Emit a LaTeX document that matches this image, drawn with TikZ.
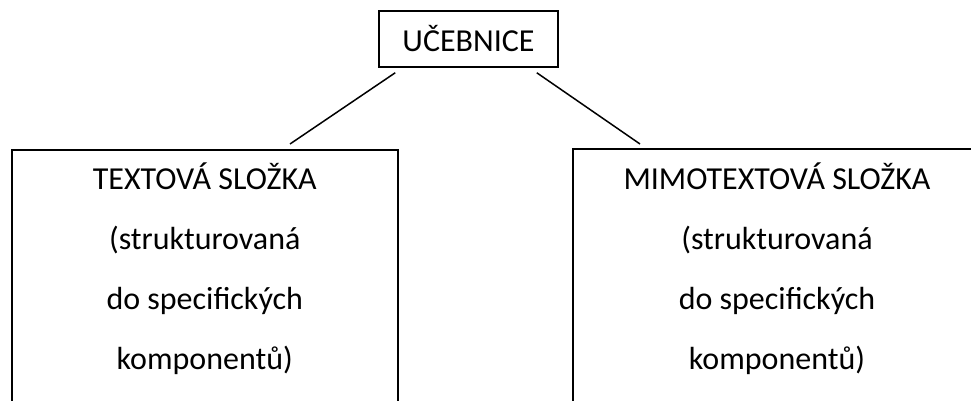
\documentclass[tikz,border=0pt]{standalone}
\usepackage{fontspec}
\setmainfont{Carlito}
\usetikzlibrary{positioning}
\tikzset{
  topbox/.style   = {shape=rectangle, draw, line width=1.5pt,
                     minimum width=179pt, minimum height=56pt,
                     font=\fontsize{32}{38}\selectfont},
  partbox/.style  = {shape=rectangle, draw, line width=1.5pt,
                     anchor=north west, minimum height=320pt},
  parttext/.style = {align=center, anchor=north, inner sep=0pt,
                     font=\fontsize{32}{60}\selectfont},
  link/.style     = {line width=1.5pt}
}
\begin{document}
\begin{tikzpicture}[x=1pt,y=-1pt]
  \useasboundingbox (0,0) rectangle (971,401);
  \clip (0,0) rectangle (971,401);

  \node [topbox] (ucebnice) at (468.5,39) {UČEBNICE};

  % both parts run on below the page, the right one also past it
  \node [partbox, minimum width=386pt] (textova) at (11,149) {};
  \node [partbox, draw=none, minimum width=700pt] (mimotextova) at (573,149) {};
  \draw [link] (mimotextova.south west) |- (mimotextova.north east);

  \node [parttext] (textovaText) at ([yshift=-14pt]textova.north)
    {TEXTOVÁ SLOŽKA\\(strukturovaná\\do specifických\\komponentů)};
  \node [parttext] (mimotextovaText) at ([xshift=204pt,yshift=-14pt]mimotextova.north west)
    {MIMOTEXTOVÁ SLOŽKA\\(strukturovaná\\do specifických\\komponentů)};

  \draw [link] ([xshift=17pt,yshift=-5pt]ucebnice.south west)
    -- ([xshift=279pt,yshift=5pt]textova.north west);
  \draw [link] ([xshift=-22pt,yshift=-5pt]ucebnice.south east)
    -- ([xshift=67pt,yshift=5pt]mimotextova.north west);
\end{tikzpicture}
\end{document}
